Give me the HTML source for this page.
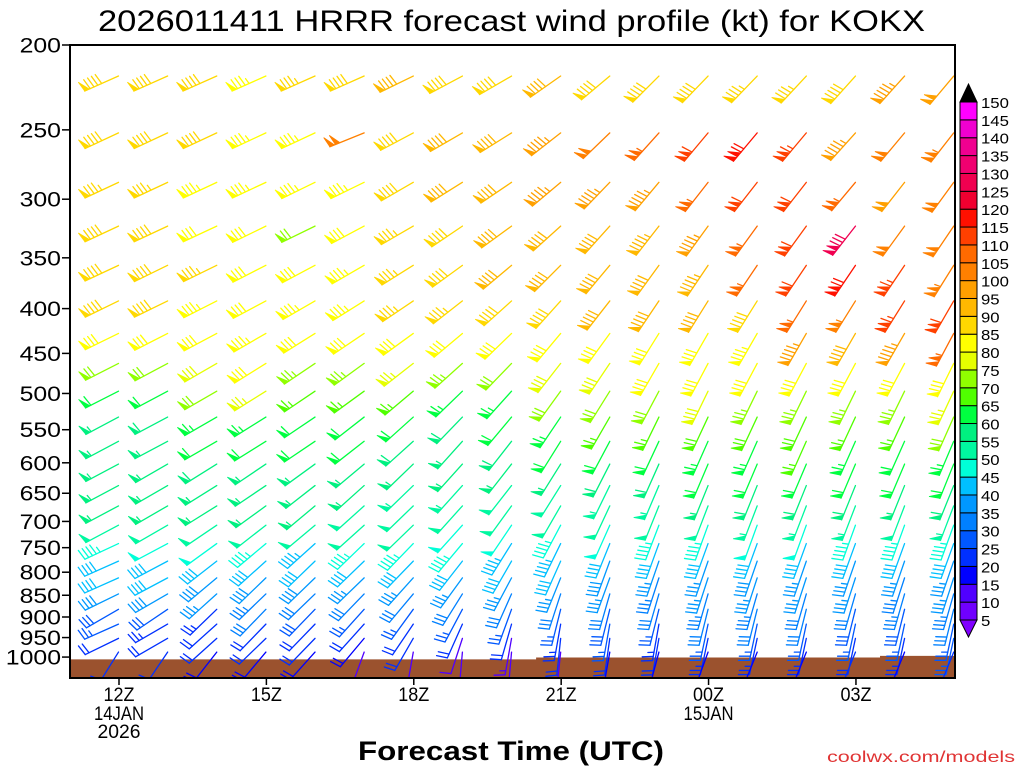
<!DOCTYPE html>
<html><head><meta charset="utf-8"><title>HRRR wind profile KOKX</title>
<style>html,body{margin:0;padding:0;background:#fff}svg{display:block}text{font-family:"Liberation Sans",sans-serif}</style>
</head><body>
<svg id="chart" width="1024" height="768" viewBox="0 0 1024 768" xmlns="http://www.w3.org/2000/svg">
<defs><clipPath id="plotclip"><rect x="70" y="45" width="885" height="633"/></clipPath></defs>
<rect x="0" y="0" width="1024" height="768" fill="#fff"/>
<text x="98" y="31" font-size="30" textLength="827" lengthAdjust="spacingAndGlyphs" fill="#000">2026011411 HRRR forecast wind profile (kt) for KOKX</text>
<g id="ground"></g>
<g id="barbs" clip-path="url(#plotclip)"></g>
<rect x="70" y="45" width="885" height="633" fill="none" stroke="#000" stroke-width="2"/>
<g id="yaxis"></g>
<g id="xaxis"></g>
<text x="358" y="760" font-size="27" font-weight="bold" textLength="306" lengthAdjust="spacingAndGlyphs" fill="#000">Forecast Time (UTC)</text>
<text x="827" y="762" font-size="16" textLength="188" lengthAdjust="spacingAndGlyphs" fill="#e03434">coolwx.com/models</text>
<g id="cbar"></g>
</svg>
<script>
const hours = [12,13,14,15,16,17,18,19,20,21,22,23,24,25,26,27,28,29];
const levels = [217,252,287,322,357,392,427,462,497,532,567,602,637,672,707,742,777,812,847,882,917,952,987];
const surfacePressure = [1006,1006,1006,1006,1006,1006,1006,1006,1006,1001,1001,1001,1001,1001,1001,1001,997,997];
const yTicks = [200,250,300,350,400,450,500,550,600,650,700,750,800,850,900,950,1000];
const xTickHours = [12,15,18,21,24,27];
const xTickLabels = ["12Z","15Z","18Z","21Z","00Z","03Z"];
const legendLevels = [5,10,15,20,25,30,35,40,45,50,55,60,65,70,75,80,85,90,95,100,105,110,115,120,125,130,135,140,145,150];
const legendColors = ["#7000ff","#5000ff","#0000ff","#0030ff","#0058ff","#0080ff","#0098ff","#00c0ff","#00ffd8","#00f8a0","#00f080","#00ff40","#50ff00","#90ff00","#e6ff00","#ffff00","#ffd800","#ffb800","#ffa000","#ff8000","#ff6a00","#ff4000","#ff1000","#f00030","#f00050","#f00070","#f00090","#f000d0","#ff00ff"];
const speed = [
[88,88,88,84,86,88,90,88,88,90,88,88,88,87,85,88,97,98],
[88,88,88,84,84,102,89,91,92,95,102,105,110,118,113,95,100,103],
[86,85,84,84,83,84,88,90,92,95,97,95,105,112,112,105,98,100],
[88,88,82,80,70,82,86,88,90,92,92,93,95,105,112,128,100,100],
[88,88,85,82,82,84,86,88,90,92,92,92,94,105,112,118,113,103],
[88,88,84,82,84,84,85,86,88,88,90,90,90,88,107,103,113,112],
[82,82,82,83,80,80,82,82,82,82,82,82,82,83,96,90,97,105],
[72,72,78,80,74,74,76,74,72,78,78,80,80,80,80,82,80,82],
[62,62,72,76,66,66,66,64,64,70,72,72,78,74,74,74,74,76],
[57,58,64,64,62,62,60,58,60,64,66,66,68,68,68,66,66,70],
[57,57,60,60,60,60,58,57,58,60,62,62,64,64,65,64,62,64],
[57,57,58,57,57,56,56,55,55,56,58,58,60,62,62,62,60,62],
[56,56,56,55,55,55,54,53,52,52,54,54,56,58,58,58,56,58],
[55,55,55,55,55,52,52,50,50,50,50,50,52,54,54,54,52,54],
[50,50,50,50,50,50,50,48,48,47,48,47,47,48,48,47,46,46],
[47,48,48,47,44,45,47,45,44,44,42,42,42,42,42,40,40,40],
[42,42,42,40,40,40,40,40,42,40,38,37,37,38,37,37,37,37],
[40,40,38,38,38,36,36,35,36,36,35,34,35,35,35,35,34,35],
[38,38,37,33,32,32,30,30,32,32,32,30,33,33,32,32,33,33],
[28,28,23,32,28,26,25,25,25,26,28,27,30,30,30,28,28,30],
[25,24,22,22,22,22,22,22,22,23,25,24,26,27,27,27,25,27],
[20,20,20,20,20,18,20,12,14,22,22,22,24,24,24,22,24,26],
[20,20,18,18,18,12,10,10,12,12,15,18,18,18,18,20,18,20]
];
const direction = [
[246,246,246,246,246,246,244,242,240,235,230,225,224,224,223,222,222,220],
[245,245,245,245,245,248,242,240,238,232,226,222,220,220,220,222,220,218],
[245,245,245,245,244,244,240,238,236,230,224,220,218,218,218,220,218,216],
[245,245,245,244,244,242,240,236,234,228,222,218,216,216,216,218,216,214],
[245,244,244,243,242,240,238,234,230,225,220,216,214,214,214,214,214,212],
[244,244,243,242,240,238,236,232,228,222,218,214,212,212,212,212,212,210],
[244,243,242,240,238,236,234,230,226,220,216,212,210,210,210,210,210,208],
[243,242,240,238,236,234,232,228,224,218,214,210,208,208,208,208,208,206],
[243,242,240,238,236,234,230,226,222,216,212,208,206,206,206,206,206,205],
[242,242,240,238,236,232,228,224,220,214,210,206,205,205,205,205,205,204],
[242,242,240,238,236,232,228,222,218,212,208,205,204,204,204,204,204,203],
[242,240,238,236,234,230,226,222,218,212,207,204,203,203,203,203,203,202],
[242,240,238,236,232,228,226,222,218,212,206,203,202,202,202,202,202,202],
[242,240,238,234,230,228,226,222,216,210,205,202,201,201,201,201,201,201],
[242,240,236,232,230,228,226,222,214,208,204,201,200,200,200,200,200,200],
[245,242,234,230,228,226,224,220,212,206,202,200,200,200,200,200,200,200],
[246,242,232,228,226,226,224,218,210,204,200,199,199,199,199,199,199,199],
[246,242,230,226,226,226,222,216,208,202,200,198,198,198,198,198,198,198],
[244,240,228,226,226,224,220,212,204,198,196,196,196,196,196,196,196,196],
[240,236,226,224,224,222,216,208,200,194,194,194,194,194,194,194,194,194],
[246,240,228,224,224,222,214,204,196,190,190,190,192,192,192,192,192,192],
[244,240,228,226,224,220,210,198,190,186,188,190,192,192,192,192,192,192],
[212,214,218,220,222,200,190,185,185,186,190,195,200,202,202,202,202,202]
];

const NS = "http://www.w3.org/2000/svg";
function mk(tag, attrs, parent){const e=document.createElementNS(NS,tag);for(const k in attrs)e.setAttribute(k,attrs[k]);parent.appendChild(e);return e;}
const yOf = p => 45 + 380.3*Math.log(p/200);
const xOf = h => 118.5 + 49.13*(h-12);
function colorOf(s){ if(s<5) return "#8000ff"; if(s>=150) return "#000"; const i=Math.floor((s-5)/5); return legendColors[Math.min(i,legendColors.length-1)]; }

// ground
const gG=document.getElementById('ground');
let pts=[];
for(let i=0;i<hours.length;i++){
  const xl = i===0?71:(xOf(hours[i])+xOf(hours[i-1]))/2;
  const xr = i===hours.length-1?954:(xOf(hours[i])+xOf(hours[i+1]))/2;
  const y=yOf(surfacePressure[i]);
  pts.push(xl+","+y, xr+","+y);
}
pts.push("954,677","71,677");
const gp=mk('polygon',{points:pts.join(" "),fill:"#9b522e"},gG);



// barbs
const bG=document.getElementById('barbs');
const L=37, FL=11, SP=4.2;
for(let r=0;r<levels.length;r++){
  for(let c=0;c<hours.length;c++){
    const s=speed[r][c], d=direction[r][c]*Math.PI/180;
    const sx=xOf(hours[c]), sy=yOf(levels[r]);
    const tx=Math.sin(d), ty=-Math.cos(d);
    const px=-ty, py=tx;
    const a=12*Math.PI/180;
    const fx=Math.cos(a)*px+Math.sin(a)*tx, fy=Math.cos(a)*py+Math.sin(a)*ty;
    const col=colorOf(s);
    const g=mk('g',{stroke:col,fill:col,"stroke-width":"1.3","stroke-linecap":"round"},bG);
    
    
    const ex=sx+L*tx, ey=sy+L*ty;
    mk('line',{x1:sx,y1:sy,x2:ex,y2:ey},g);
    let v=Math.round(s/5)*5;
    let pen=Math.floor(v/50); v-=pen*50;
    let full=Math.floor(v/10); v-=full*10;
    let half=v>=5;
    let pos=0;
    for(let k=0;k<pen;k++){
      const ax=ex-pos*tx, ay=ey-pos*ty;
      const cx=ex-(pos+5)*tx, cy=ey-(pos+5)*ty;
      mk('polygon',{points:`${ax},${ay} ${ax+FL*fx},${ay+FL*fy} ${cx},${cy}`,"stroke-width":"0.8"},g);
      pos+=6;
    }
    for(let k=0;k<full;k++){
      const ax=ex-pos*tx, ay=ey-pos*ty;
      mk('line',{x1:ax,y1:ay,x2:ax+FL*fx,y2:ay+FL*fy},g);
      pos+=SP;
    }
    if(half){
      if(pen===0&&full===0) pos+=SP;
      const ax=ex-pos*tx, ay=ey-pos*ty;
      mk('line',{x1:ax,y1:ay,x2:ax+FL*0.55*fx,y2:ay+FL*0.55*fy},g);
    }
  }
}

// y axis
const yG=document.getElementById('yaxis');
yTicks.forEach(p=>{
  const y=yOf(p);
  const t=mk('line',{x1:62,y1:y,x2:70,y2:y,stroke:"#000","stroke-width":"1.5"},yG);
  
  
  const s=String(p);
  const tx=mk('text',{x:61,y:y+7.5,"font-size":"21","text-anchor":"end",textLength:s.length*13.8,lengthAdjust:"spacingAndGlyphs",fill:"#000"},yG);
  tx.textContent=s;
  
  
});

// x axis
const xG=document.getElementById('xaxis');
xTickHours.forEach((h,i)=>{
  const x=xOf(h)+0.5;
  const t=mk('line',{x1:x,y1:678,x2:x,y2:685,stroke:"#000","stroke-width":"1.5"},xG);
  
  
  const tx=mk('text',{x:x,y:701,"font-size":"19.5","text-anchor":"middle",textLength:31,lengthAdjust:"spacingAndGlyphs",fill:"#000"},xG);
  tx.textContent=xTickLabels[i];
  
  
});
[["14JAN",xOf(12)+0.5,720,50],["2026",xOf(12)+0.5,738,43],["15JAN",xOf(24)+0.5,720,50]].forEach(a=>{
  const tx=mk('text',{x:a[1],y:a[2],"font-size":"19.5","text-anchor":"middle",textLength:a[3],lengthAdjust:"spacingAndGlyphs",fill:"#000"},xG);
  tx.textContent=a[0];
  
  
});

// colorbar
const cG=document.getElementById('cbar');
const cTop=102, cBot=620, n=legendColors.length, h=(cBot-cTop)/n;
const up=mk('polygon',{points:`960,${cTop} 977,${cTop} 968.5,84`,fill:"#000",stroke:"#000"},cG);


const dn=mk('polygon',{points:`960,${cBot} 977,${cBot} 968.5,637`,fill:"#8000ff",stroke:"#000"},cG);


for(let i=0;i<n;i++){
  const y=cBot-(i+1)*h;
  const r=mk('rect',{x:960,y:y,width:17,height:h,fill:legendColors[i],stroke:"#000","stroke-width":"1"},cG);
  
  
}
legendLevels.forEach((v,i)=>{
  const y=cBot-i*h;
  const s=String(v);
  const t=mk('text',{x:981,y:y+6,"font-size":"15",textLength:s.length*9.3,lengthAdjust:"spacingAndGlyphs",fill:"#000"},cG);
  t.textContent=s;
  
  
});
</script>
</body></html>
